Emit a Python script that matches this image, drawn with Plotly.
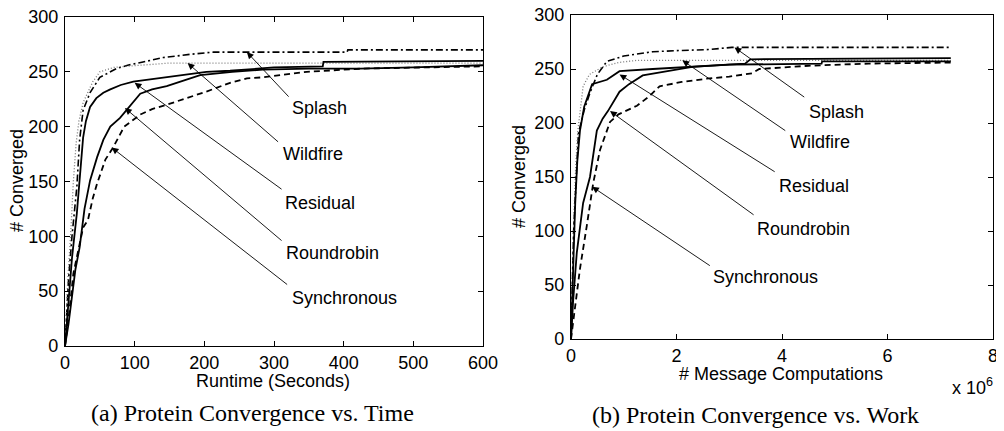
import plotly.graph_objects as go

# ---- (a) convergence vs runtime (seconds) ----
splash_t = [0, 5, 10, 17, 21, 26, 36, 50, 74, 90, 112, 141, 180, 213, 261, 300, 350, 405, 406, 600]
splash_v = [0, 60, 100, 145, 188, 215, 231, 245, 253, 256, 259, 263, 266, 268, 268, 268, 268, 268, 270, 270]

wildfire_t = [0, 4, 8, 12, 16, 20, 26, 33, 40, 50, 70, 108, 150, 600]
wildfire_v = [0, 60, 100, 150, 185, 205, 222, 232, 241, 250, 254, 256, 258, 258]

residual_t = [0, 5, 10, 17, 22, 26, 30, 36, 45, 55, 65, 80, 98, 120, 155, 203, 237, 300, 370, 371, 600]
residual_v = [0, 40, 80, 121, 160, 190, 205, 218, 226, 231, 234, 238, 241, 243, 246, 250, 251, 254, 255, 259, 260]

roundrobin_t = [0, 5, 10, 15, 21, 28, 36, 46, 55, 65, 79, 95, 108, 125, 146, 170, 194, 240, 284, 350, 423, 500, 600]
roundrobin_v = [0, 20, 45, 70, 90, 125, 151, 172, 188, 200, 208, 220, 230, 234, 237, 242, 247, 250, 252, 253, 253, 254, 256]

sync_t = [0, 6, 12, 20, 26, 33, 40, 46, 50, 58, 69, 85, 108, 125, 146, 175, 203, 237, 261, 284, 320, 347, 428, 500, 600]
sync_v = [0, 30, 66, 90, 108, 115, 135, 148, 155, 170, 181, 200, 211, 216, 220, 226, 232, 240, 244, 245, 248, 250, 253, 254, 255]

# ---- (b) convergence vs message computations (millions) ----
splash_m = [0, 0.02, 0.05, 0.1, 0.14, 0.25, 0.36, 0.5, 0.68, 1.0, 1.55, 2.0, 2.6, 3.05, 7.2]
splash_w = [0, 50, 100, 150, 190, 212, 228, 245, 257, 262, 266, 267, 268, 270, 270]

wildfire_m = [0, 0.02, 0.05, 0.09, 0.13, 0.23, 0.35, 0.6, 0.9, 1.25, 7.2]
wildfire_w = [0, 55, 105, 160, 193, 234, 245, 252, 256, 258, 258]

residual_m = [0, 0.03, 0.08, 0.12, 0.17, 0.25, 0.4, 0.68, 0.92, 1.55, 2.8, 3.3, 3.4, 7.2]
residual_w = [0, 50, 126, 165, 193, 215, 236, 240, 248, 250, 254, 255, 259, 260]

roundrobin_m = [0, 0.04, 0.11, 0.23, 0.36, 0.49, 0.6, 0.7, 0.92, 1.1, 1.36, 1.87, 2.3, 3.0, 4.75, 4.76, 7.2]
roundrobin_w = [0, 35, 80, 126, 150, 193, 204, 211, 229, 236, 244, 248, 252, 254, 255, 257, 257]

sync_m = [0, 0.08, 0.17, 0.3, 0.42, 0.55, 0.74, 0.9, 1.25, 1.49, 1.68, 2.1, 2.57, 3.0, 3.43, 3.57, 4.5, 5.64, 7.2]
sync_w = [0, 29, 65, 105, 144, 175, 201, 208, 216, 225, 234, 238, 241, 243, 246, 250, 253, 255, 256]

labels = ["Splash", "Wildfire", "Residual", "Roundrobin", "Synchronous"]
# arrow head point, arrow tail point, text left edge (data units)
arrows_a = [((261, 268), (323, 226), (323, 217)),
            ((176, 258), (308, 185), (310, 175)),
            ((100, 240), (313, 142), (313, 130)),
            ((86, 217), (313, 95), (315, 85)),
            ((67, 181), (321, 55), (323, 44))]
arrows_b = [((3.1, 270), (4.45, 223), (4.47, 210)),
            ((2.11, 258), (4.09, 192), (4.12, 182)),
            ((0.92, 245), (3.89, 154), (3.9, 142)),
            ((0.74, 211), (3.49, 114), (3.49, 102)),
            ((0.4, 141), (2.66, 67), (2.66, 57))]

SANS = "Liberation Sans, Arial, Helvetica, sans-serif"
SERIF = "Liberation Serif, Times New Roman, serif"
PAGE_PAD = 8  # default body margin of the html page
W, H = 1004 - PAGE_PAD, 431 - PAGE_PAD


def fx(sx):
    return (sx - PAGE_PAD) / W


def fy(sy):
    return 1 - (sy - PAGE_PAD) / H


styles = {
    "Splash": dict(color="black", width=1.6, dash="7px,3px,2px,3px"),
    "Wildfire": dict(color="#777777", width=1.3, dash="1px,2px"),
    "Residual": dict(color="black", width=1.8),
    "Roundrobin": dict(color="black", width=1.8),
    "Synchronous": dict(color="black", width=1.8, dash="6px,4px"),
}

fig = go.Figure()
series_a = [(splash_t, splash_v), (wildfire_t, wildfire_v), (residual_t, residual_v),
            (roundrobin_t, roundrobin_v), (sync_t, sync_v)]
series_b = [(splash_m, splash_w), (wildfire_m, wildfire_w), (residual_m, residual_w),
            (roundrobin_m, roundrobin_w), (sync_m, sync_w)]
for name, (x, y) in zip(labels, series_a):
    fig.add_trace(go.Scatter(x=x, y=y, mode="lines", name=name, line=styles[name],
                             xaxis="x", yaxis="y", showlegend=False))
for name, (x, y) in zip(labels, series_b):
    fig.add_trace(go.Scatter(x=x, y=y, mode="lines", name=name, line=styles[name],
                             xaxis="x2", yaxis="y2", showlegend=False))

annotations = []
for (xr, yr), arrows in (("x", "y"), arrows_a), (("x2", "y2"), arrows_b):
    for name, (head, tail, txt) in zip(labels, arrows):
        annotations.append(dict(x=head[0], y=head[1], ax=tail[0], ay=tail[1], xref=xr, yref=yr,
                                axref=xr, ayref=yr, text="", showarrow=True, arrowhead=2,
                                arrowsize=1.5, arrowwidth=0.9, arrowcolor="black", standoff=0))
        annotations.append(dict(x=txt[0], y=txt[1], xref=xr, yref=yr, text=name, showarrow=False,
                                xanchor="left", yanchor="middle", font=dict(size=18, family=SANS, color="black")))


def label(text, x, y, size=18, family=SANS, angle=0, xanchor="center"):
    annotations.append(dict(x=fx(x), y=fy(y), xref="paper", yref="paper", text=text, showarrow=False,
                            xanchor=xanchor, yanchor="middle", textangle=angle,
                            font=dict(size=size, family=family, color="black")))


label("Runtime (Seconds)", 273, 381)
label("# Message Computations", 781, 374)
label("x 10<sup>6</sup>", 950, 386, xanchor="left")
label("# Converged", 17, 181, angle=-90)
label("# Converged", 519, 177, angle=-90)
label("(a) Protein Convergence vs. Time", 252, 413, size=24, family=SERIF)
label("(b) Protein Convergence vs. Work", 755, 415, size=24, family=SERIF)

axis_common = dict(showline=True, linecolor="black", linewidth=1.4, mirror="ticks", ticks="inside",
                   ticklen=5, tickwidth=1, tickcolor="black", showgrid=False, zeroline=False,
                   automargin=False, ticklabeloverflow="allow",
                   tickfont=dict(size=18, family=SANS, color="black"))

fig.update_layout(
    width=W, height=H,
    margin=dict(l=0, r=0, t=0, b=0),
    paper_bgcolor="white", plot_bgcolor="white",
    xaxis=dict(domain=[fx(65), fx(483)], range=[0, 600], tickvals=[0, 100, 200, 300, 400, 500, 600],
               anchor="y", **axis_common),
    yaxis=dict(domain=[fy(346), fy(17)], range=[0, 300], tickvals=[0, 50, 100, 150, 200, 250, 300],
               anchor="x", ticklabelstandoff=2, **axis_common),
    xaxis2=dict(domain=[fx(571), fx(993)], range=[0, 8], tickvals=[0, 2, 4, 6, 8],
                anchor="y2", **axis_common),
    yaxis2=dict(domain=[fy(339), fy(15)], range=[0, 300], tickvals=[0, 50, 100, 150, 200, 250, 300],
                anchor="x2", ticklabelstandoff=2, **axis_common),
    annotations=annotations,
)

fig.write_html("out.html")
